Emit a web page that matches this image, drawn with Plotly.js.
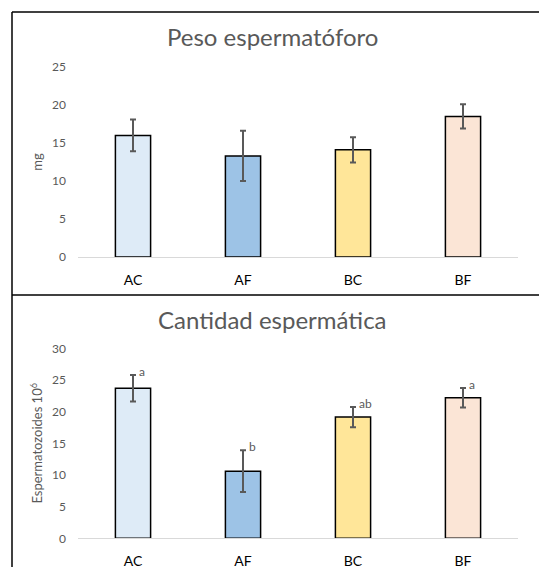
<!DOCTYPE html>
<html>
<head>
<meta charset="utf-8">
<script src="https://cdn.plot.ly/plotly-3.0.1.min.js"></script>
<style>html,body{margin:0;padding:0;background:#fff;}#chart{width:539px;height:567px;}</style>
</head>
<body>
<div id="chart"></div>
<script>
// Data
const categories = ["AC", "AF", "BC", "BF"];
const colors = ["#DEEBF7", "#9DC3E6", "#FFE699", "#FBE5D6"];
const pesoValues = [16.0, 13.3, 14.1, 18.5];
const pesoErrors = [2.1, 3.3, 1.65, 1.6];
const cantidadValues = [23.7, 10.6, 19.15, 22.2];
const cantidadErrors = [2.1, 3.3, 1.6, 1.55];
const cantidadLetters = ["a", "b", "ab", "a"];
const pesoTicks = [0, 5, 10, 15, 20, 25];
const cantidadTicks = [0, 5, 10, 15, 20, 25, 30];

const FONT = "Lato, 'Open Sans', sans-serif";
const GRAY = "#595959";

const barStyle = {
  type: "bar",
  marker: {color: colors, line: {color: "#000000", width: 1.5}},
  hoverinfo: "skip",
  showlegend: false
};
const errStyle = (arr) => ({type: "data", array: arr, visible: true, color: GRAY, thickness: 2, width: 3});

const traces = [
  Object.assign({}, barStyle, {x: categories, y: pesoValues, error_y: errStyle(pesoErrors), xaxis: "x", yaxis: "y"}),
  Object.assign({}, barStyle, {x: categories, y: cantidadValues, error_y: errStyle(cantidadErrors), xaxis: "x2", yaxis: "y2"})
];

const xDomain = [78/539, 518/539];
const axisX = (anchor) => ({
  domain: xDomain, anchor: anchor, type: "category",
  showline: true, linecolor: "#D9D9D9", linewidth: 1,
  ticks: "", showgrid: false, zeroline: false,
  tickfont: {family: FONT, size: 14, color: "#000000"},
  ticklabelstandoff: 10
});
const axisY = (anchor, domain, range, ticks, title) => ({
  domain: domain, anchor: anchor, range: range,
  tickvals: ticks, ticktext: ticks.map(String),
  showline: false, showgrid: false, zeroline: false, ticks: "",
  tickfont: {family: FONT, size: 12, color: GRAY},
  ticklabelstandoff: 11,
  title: {text: title, font: {family: FONT, size: 13, color: GRAY}, standoff: 6}
});

const annotations = [
  {xref: "paper", yref: "paper", x: 273/539, y: 1 - 37/567, text: "Peso espermatóforo",
   showarrow: false, xanchor: "center", yanchor: "middle", font: {family: FONT, size: 24, color: GRAY}},
  {xref: "paper", yref: "paper", x: 273/539, y: 1 - 319/567, text: "Cantidad espermática",
   showarrow: false, xanchor: "center", yanchor: "middle", font: {family: FONT, size: 24, color: GRAY}}
];
categories.forEach((c, i) => {
  annotations.push({
    xref: "x2", yref: "y2", x: c, y: cantidadValues[i] + cantidadErrors[i],
    text: cantidadLetters[i], showarrow: false, xanchor: "left", yanchor: "bottom",
    xshift: 4, yshift: -6, font: {family: FONT, size: 12, color: GRAY}
  });
});

const lineShape = (x0, y0, x1, y1) => ({
  type: "line", xref: "paper", yref: "paper",
  x0: x0/539, x1: x1/539, y0: 1 - y0/567, y1: 1 - y1/567,
  line: {color: "#000000", width: 1.5}
});

const layout = {
  width: 539, height: 567,
  margin: {l: 0, r: 0, t: 0, b: 0},
  paper_bgcolor: "#ffffff", plot_bgcolor: "rgba(0,0,0,0)",
  bargap: 0.68,
  xaxis: axisX("y"),
  xaxis2: axisX("y2"),
  yaxis: axisY("x", [1 - 257/567, 1 - 67/567], [0, 25], pesoTicks, "mg"),
  yaxis2: axisY("x2", [1 - 538.3/567, 1 - 348.3/567], [0, 30], cantidadTicks, "Espermatozoides 10<sup>6</sup>"),
  annotations: annotations,
  shapes: [
    lineShape(12, 12, 539, 12),
    lineShape(12, 12, 12, 567),
    lineShape(12, 295, 539, 295)
  ]
};

Plotly.newPlot("chart", traces, layout, {staticPlot: true, displayModeBar: false});
</script>
</body>
</html>
